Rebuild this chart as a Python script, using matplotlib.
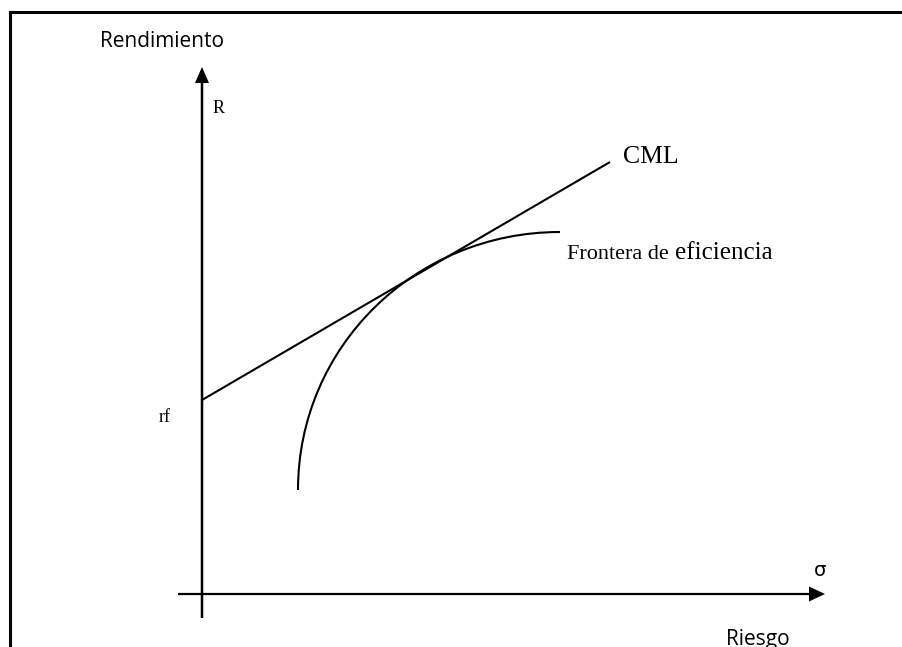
import matplotlib.pyplot as plt
from matplotlib.path import Path
from matplotlib.patches import PathPatch
from matplotlib.lines import Line2D

# conceptual values (sigma on x, return on y)
rf = 1.94
cml_x = [0.0, 4.08]
cml_y = [rf, 4.32]
# efficient frontier as cubic bezier control points
frontier_x = [0.96, 0.96, 2.13, 3.58]
frontier_y = [1.04, 2.47, 3.62, 3.62]

fig = plt.figure(figsize=(9.03, 6.47), dpi=100)
ax = fig.add_axes([0, 0, 1, 1])
ax.set_xlim(-2.02, 7.01)
ax.set_ylim(-0.53, 5.94)
ax.axis('off')

# axes with arrows
ax.arrow(0, -0.24, 0, 5.51, width=0.025, head_width=0.14, head_length=0.16,
         length_includes_head=True, color='black', lw=0)
ax.arrow(-0.24, 0, 6.47, 0, width=0.022, head_width=0.15, head_length=0.16,
         length_includes_head=True, color='black', lw=0)

# capital market line
ax.plot(cml_x, cml_y, color='black', lw=1.5, solid_capstyle='butt')

# efficient frontier
verts = list(zip(frontier_x, frontier_y))
path = Path(verts, [Path.MOVETO, Path.CURVE4, Path.CURVE4, Path.CURVE4])
ax.add_patch(PathPatch(path, facecolor='none', edgecolor='black', lw=1.5))

sans = 'Open Sans'
serif = 'Liberation Serif'
ax.text(-0.395, 5.47, 'Rendimiento', family=sans, fontsize=15, ha='center', va='baseline')
ax.text(5.24, -0.51, 'Riesgo', family=sans, fontsize=15, ha='left', va='baseline')
ax.text(0.11, 4.81, 'R', family=serif, fontsize=13, va='baseline')
ax.text(-0.43, 1.72, 'rf', family=serif, fontsize=13, va='baseline')
ax.text(4.21, 4.31, 'CML', family=serif, fontsize=18.5, va='baseline')
ax.text(3.65, 3.35, 'Frontera de', family=serif, fontsize=16, va='baseline')
ax.text(4.73, 3.35, 'eficiencia', family=serif, fontsize=18, va='baseline')
ax.text(6.18, 0.18, 'σ', family='DejaVu Sans', fontsize=14, ha='center', va='baseline')

# frame around the picture (cut at right and bottom)
fig.add_artist(Line2D([0.0111, 0.0111], [-0.1, 0.982], transform=fig.transFigure,
                      color='black', lw=2.2))
fig.add_artist(Line2D([0.0111, 1.1], [0.982, 0.982], transform=fig.transFigure,
                      color='black', lw=2.2, solid_capstyle='projecting'))

fig.savefig('out.png', dpi=100)
